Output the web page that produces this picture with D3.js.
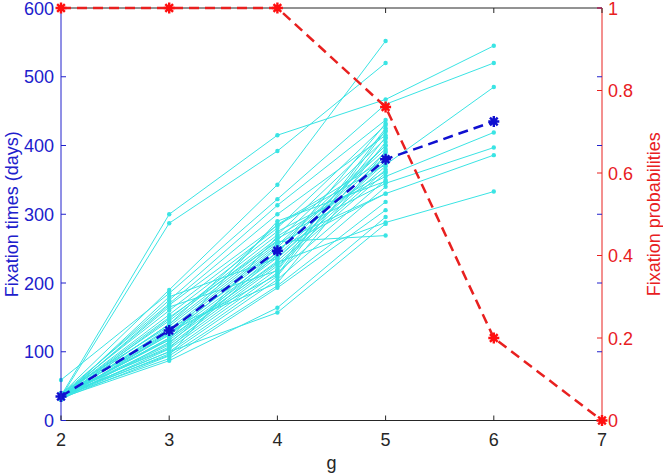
<!DOCTYPE html>
<html>
<head>
<meta charset="utf-8">
<script src="https://cdn.jsdelivr.net/npm/d3@7"></script>
<style>
  body { margin: 0; background: #fff; }
  svg { display: block; font-family: "Liberation Sans", Arial, sans-serif; }
</style>
</head>
<body>
<svg id="chart" width="663" height="476"></svg>
<script>
// x categories (g)
const gValues = [2, 3, 4, 5, 6, 7];
// individual fixation-time runs, one value per g (2..5, some up to 6)
const runs = [
  [36, 300, 415, 467, 545],
  [34, 287, 392, 520],
  [38, 190, 343, 552],
  [59, 185, 322, 460, 520],
  [35, 175, 313, 437],
  [33, 168, 284, 372, 485],
  [37, 160, 280, 430],
  [35, 154, 275, 355, 419],
  [32, 148, 270, 420],
  [36, 145, 265, 345, 397],
  [34, 140, 262, 410],
  [40, 137, 258, 330, 386],
  [33, 133, 255, 400],
  [35, 130, 252, 395],
  [31, 127, 245, 390],
  [38, 124, 240, 385],
  [34, 120, 237, 378],
  [36, 117, 232, 370],
  [30, 114, 228, 365],
  [35, 110, 225, 360],
  [37, 107, 220, 425],
  [33, 104, 215, 350],
  [36, 100, 210, 405],
  [34, 97, 205, 340],
  [32, 94, 196, 318],
  [35, 90, 193, 306],
  [33, 87, 164, 296],
  [36, 100, 157, 286],
  [34, 120, 230, 288, 333],
  [35, 150, 260, 269],
  [38, 170, 300, 415],
  [33, 140, 285, 380],
  [31, 125, 250, 330],
  [36, 112, 245, 400],
  [34, 165, 218, 412],
  [37, 95, 268, 362],
  [32, 135, 200, 392],
  [35, 118, 290, 348],
  [39, 105, 242, 432],
  [33, 180, 236, 375],
  [36, 128, 212, 422]
];
// mean fixation times per g (2..6)
const meanTimes = [35, 131, 247, 380, 435];
// fixation probabilities per g (2..7)
const fixProb = [1, 1, 1, 0.76, 0.2, 0];

const leftTicks = [0, 100, 200, 300, 400, 500, 600];
const rightTicks = [0, 0.2, 0.4, 0.6, 0.8, 1];

const svg = d3.select("#chart");
const x0 = 61, x1 = 602, y0 = 420.5, y1 = 8;

const x = d3.scaleLinear().domain([2, 7]).range([x0, x1]);
const yL = d3.scaleLinear().domain([0, 600]).range([y0, y1]);
const yR = d3.scaleLinear().domain([0, 1]).range([y0, y1]);

const blue = "#2020cc", red = "#e8201f", cyan = "#3ae4e4", grey = "#262626";

function asterisk(s) {
  const d = s * 0.7;
  return `M${-s},0L${s},0M0,${-s}L0,${s}M${-d},${-d}L${d},${d}M${-d},${d}L${d},${-d}`;
}

// individual runs
const runLine = d3.line().x((d, i) => x(gValues[i])).y(d => yL(d));
const runG = svg.append("g");
runG.selectAll("path")
  .data(runs)
  .join("path")
  .attr("d", runLine)
  .attr("fill", "none")
  .attr("stroke", cyan)
  .attr("stroke-width", 1);
runs.forEach(r => {
  runG.append("g").selectAll("circle")
    .data(r)
    .join("circle")
    .attr("cx", (d, i) => x(gValues[i]))
    .attr("cy", d => yL(d))
    .attr("r", 2.2)
    .attr("fill", cyan);
});

// mean line
svg.append("path")
  .datum(meanTimes)
  .attr("d", runLine)
  .attr("fill", "none")
  .attr("stroke", "#1010d0")
  .attr("stroke-width", 2.5)
  .attr("stroke-dasharray", "10,6");
svg.append("g").selectAll("path")
  .data(meanTimes)
  .join("path")
  .attr("transform", (d, i) => `translate(${x(gValues[i])},${yL(d)})`)
  .attr("d", asterisk(5.5))
  .attr("stroke", "#1010d0")
  .attr("stroke-width", 2.4);

// axes box
svg.append("line").attr("x1", x0).attr("x2", x1).attr("y1", y0).attr("y2", y0)
  .attr("stroke", grey).attr("stroke-width", 1);
svg.append("line").attr("x1", x0).attr("x2", x1).attr("y1", y1).attr("y2", y1)
  .attr("stroke", grey).attr("stroke-width", 1);
svg.append("line").attr("x1", x0).attr("x2", x0).attr("y1", y0).attr("y2", y1)
  .attr("stroke", blue).attr("stroke-width", 1);
svg.append("line").attr("x1", x1).attr("x2", x1).attr("y1", y0).attr("y2", y1)
  .attr("stroke", red).attr("stroke-width", 1);

// x ticks (bottom and top, inward)
const xt = svg.append("g");
gValues.forEach(g => {
  xt.append("line").attr("x1", x(g)).attr("x2", x(g)).attr("y1", y0).attr("y2", y0 - 5).attr("stroke", grey);
  xt.append("line").attr("x1", x(g)).attr("x2", x(g)).attr("y1", y1).attr("y2", y1 + 5).attr("stroke", grey);
  xt.append("text").attr("x", x(g)).attr("y", 446).attr("text-anchor", "middle")
    .attr("font-size", 18).attr("fill", grey).text(g);
});

// left ticks (blue) on both sides
const lt = svg.append("g");
leftTicks.forEach(v => {
  lt.append("line").attr("x1", x0).attr("x2", x0 + 5).attr("y1", yL(v)).attr("y2", yL(v)).attr("stroke", blue);
  lt.append("line").attr("x1", x1).attr("x2", x1 - 5).attr("y1", yL(v)).attr("y2", yL(v)).attr("stroke", blue);
  lt.append("text").attr("x", 54).attr("y", yL(v) + 6.5).attr("text-anchor", "end")
    .attr("font-size", 18).attr("fill", blue).text(v);
});

// right ticks (red)
const rt = svg.append("g");
rightTicks.forEach(v => {
  rt.append("line").attr("x1", x1).attr("x2", x1 - 5).attr("y1", yR(v)).attr("y2", yR(v)).attr("stroke", red);
  rt.append("text").attr("x", 608).attr("y", yR(v) + 6.5).attr("text-anchor", "start")
    .attr("font-size", 18).attr("fill", red).text(v);
});

// fixation probabilities
const probLine = d3.line().x((d, i) => x(gValues[i])).y(d => yR(d));
svg.append("path")
  .datum(fixProb)
  .attr("d", probLine)
  .attr("fill", "none")
  .attr("stroke", red)
  .attr("stroke-width", 2.5)
  .attr("stroke-dasharray", "10,6");
svg.append("g").selectAll("path")
  .data(fixProb)
  .join("path")
  .attr("transform", (d, i) => `translate(${x(gValues[i])},${yR(d)})`)
  .attr("d", asterisk(5.5))
  .attr("stroke", "#ff1010")
  .attr("stroke-width", 2.4);

// axis labels
svg.append("text").attr("transform", `translate(18,${(y0 + y1) / 2}) rotate(-90)`)
  .attr("text-anchor", "middle").attr("font-size", 18).attr("fill", blue)
  .text("Fixation times (days)");
svg.append("text").attr("transform", `translate(660,${(y0 + y1) / 2}) rotate(-90)`)
  .attr("text-anchor", "middle").attr("font-size", 18).attr("fill", red)
  .text("Fixation probabilities");
svg.append("text").attr("x", (x0 + x1) / 2).attr("y", 469).attr("text-anchor", "middle")
  .attr("font-size", 18).attr("fill", grey).text("g");
</script>
</body>
</html>
